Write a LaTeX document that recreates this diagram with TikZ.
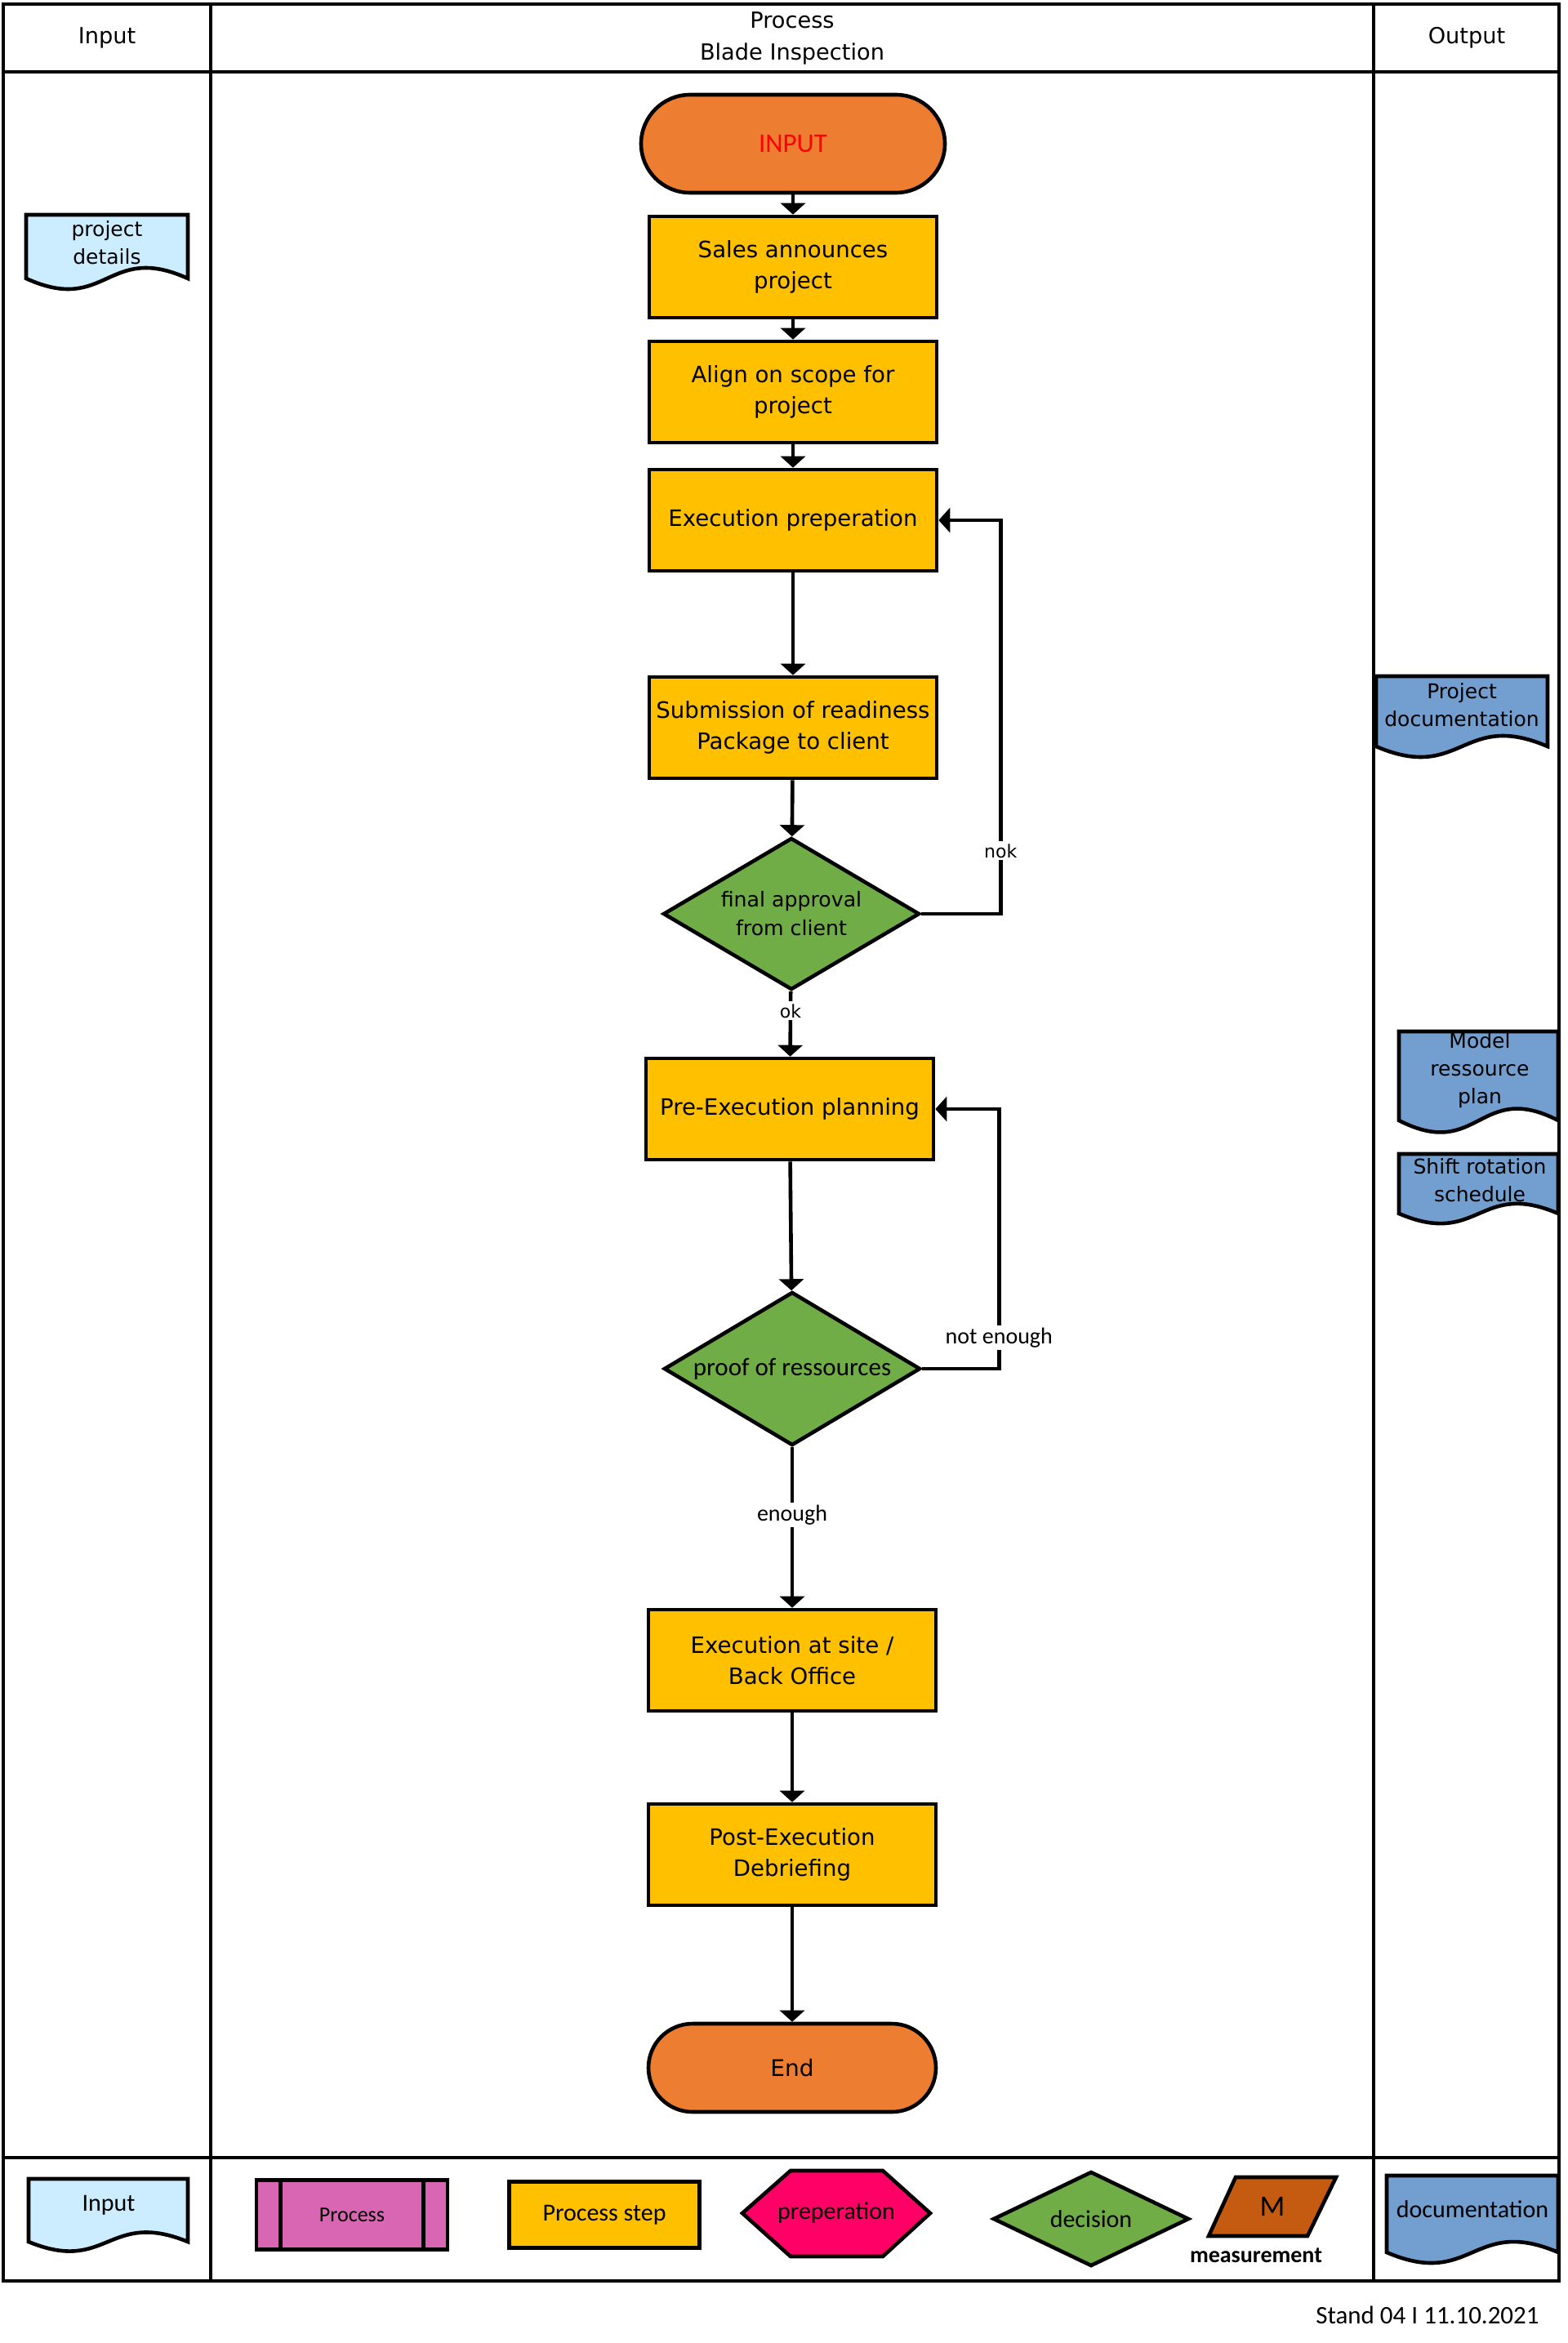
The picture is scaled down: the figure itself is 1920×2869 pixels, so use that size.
\documentclass[tikz,border=0pt]{standalone}
\usepackage{fontspec}
\setmainfont{DejaVu Sans}
\newfontfamily\calfont{Carlito}
\usepackage{tikz}
\usetikzlibrary{shapes,positioning,calc}
\usetikzlibrary{shapes.geometric, arrows}
\usetikzlibrary{arrows.meta}
\definecolor{termorange}{HTML}{ED7D31}
\definecolor{boxyellow}{HTML}{FFC000}
\definecolor{decgreen}{HTML}{70AD47}
\definecolor{inblue}{HTML}{CCECFF}
\definecolor{docblue}{HTML}{729FCF}
\definecolor{procpink}{HTML}{D966B2}
\definecolor{prepred}{HTML}{FF0066}
\definecolor{measbrown}{HTML}{C55A11}
\tikzstyle{arrow} = [line width=2.3pt,-{Triangle[length=7pt,width=15pt]}]
\tikzstyle{lane} = [line width=2.1pt]
\tikzstyle{doc} = [draw, line width=2.3pt]
\tikzstyle{doctext} = [align=center, inner sep=0pt, font=\fontsize{12.5}{17}\selectfont]
\tikzstyle{procbox} = [rectangle, draw, line width=2.3pt, fill=boxyellow, minimum width=176pt, minimum height=62pt, align=center, inner sep=2pt, font=\fontsize{13.8}{19}\selectfont]
\tikzstyle{term} = [rectangle, draw, line width=2.3pt, fill=termorange, minimum width=186pt, minimum height=60pt, rounded corners=30pt]
\tikzstyle{decide} = [diamond, aspect=1.7, draw, line width=2.3pt, fill=decgreen, minimum width=157pt, minimum height=93pt, inner sep=0pt, align=center]
\tikzstyle{lbl} = [fill=white, inner sep=1.5pt, font=\fontsize{11}{13}\selectfont]
\tikzstyle{lblc} = [fill=white, inner sep=1.5pt, font={\calfont\fontsize{14}{16}\selectfont}]
\tikzstyle{legend} = [font={\calfont\fontsize{15}{18}\selectfont}]

\begin{document}
\begin{tikzpicture}[x=0.5pt,y=-0.5pt]
	\useasboundingbox (0,0) rectangle (1920,2869);
	\draw[lane] (4,5) rectangle (1909,2793);
	\draw[lane] (4,88) -- (1909,88) (4,2642) -- (1909,2642)
		(258,5) -- (258,2793) (1682,5) -- (1682,2793);
	\node[font=\fontsize{13.6}{19.5}\selectfont] (hin) at (131,46) {Input};
	\node[align=center, font=\fontsize{13.6}{19.5}\selectfont] (hproc) at (970,47) {Process\\Blade Inspection};
	\node[font=\fontsize{13.6}{19.5}\selectfont] (hout) at (1796,46) {Output};

	\node[term, font={\calfont\fontsize{16.5}{19}\selectfont}, text=red] (input) at (971,176) {INPUT};
	\node[procbox] (sales) at (971,327) {Sales announces\\project};
	\node[procbox] (align) at (971,480) {Align on scope for\\project};
	\node[procbox] (exec) at (971,637) {Execution preperation};
	\node[procbox] (sub) at (971,891) {Submission of readiness\\Package to client};
	\node[decide, font=\fontsize{12.6}{17.5}\selectfont] (dec1) at (969,1119) {final approval\\from client};
	\node[procbox] (pre) at (967,1358) {Pre-Execution planning};
	\node[decide, minimum height=94pt, font={\calfont\fontsize{15.5}{18}\selectfont}] (dec2) at (970,1676) {proof of ressources};
	\node[procbox] (site) at (970,2033) {Execution at site /\\Back Office};
	\node[procbox] (post) at (970,2271) {Post-Execution\\Debriefing};
	\node[term, minimum width=176pt, minimum height=54pt, rounded corners=27pt, font=\fontsize{14}{17}\selectfont] (stop) at (970,2532) {End};

	\draw[arrow] (input) -- (sales);
	\draw[arrow] (sales) -- (align);
	\draw[arrow] (align) -- (exec);
	\draw[arrow] (exec) -- (sub);
	\draw[arrow] (sub) -- (dec1);
	\draw[arrow] (dec1) -- node[lbl, pos=0.3] {ok} (pre);
	\draw[arrow] (dec1.east) -- ++(97,0) |- node[lbl, pos=0.08] {nok} (exec.east);
	\draw[arrow] (pre) -- (dec2);
	\draw[arrow] (dec2) -- node[lblc, pos=0.42] {enough} (site);
	\draw[arrow] (dec2.east) -- ++(94,0) |- node[lblc, pos=0.06] {not enough} (pre.east);
	\draw[arrow] (site) -- (post);
	\draw[arrow] (post) -- (stop);

	\draw[doc, fill=inblue] (32,263) -- (230,263) -- (230,341) .. controls (131,296) and (131,386) .. (32,341) -- cycle;
	\node[doctext] (pdet) at (131,297) {project\\details};
	\draw[doc, fill=docblue] (1685,828) -- (1895,828) -- (1895,914) .. controls (1790,869) and (1790,959) .. (1685,914) -- cycle;
	\node[doctext] (pdoc) at (1790,863) {Project\\documentation};
	\draw[doc, fill=docblue] (1713,1263) -- (1908,1263) -- (1908,1372) .. controls (1811,1322) and (1811,1422) .. (1713,1372) -- cycle;
	\node[doctext] (mplan) at (1812,1311) {Model\\ressource\\plan};
	\draw[doc, fill=docblue] (1713,1413) -- (1908,1413) -- (1908,1486) .. controls (1811,1444) and (1811,1528) .. (1713,1486) -- cycle;
	\node[doctext] (shift) at (1812,1445) {Shift rotation\\schedule};

	\draw[doc, fill=inblue] (35,2668) -- (230,2668) -- (230,2745) .. controls (132,2705) and (132,2785) .. (35,2745) -- cycle;
	\node[legend] (linput) at (133,2700) {Input};
	\node[rectangle, draw, line width=2.3pt, fill=procpink, minimum width=117pt, minimum height=42.5pt, font={\calfont\fontsize{13}{15}\selectfont}] (lproc) at (431,2712) {Process};
	\draw[line width=2.3pt] ([xshift=16pt]lproc.north west) -- ([xshift=16pt]lproc.south west)
		([xshift=-16pt]lproc.north east) -- ([xshift=-16pt]lproc.south east);
	\node[legend, rectangle, draw, line width=2.3pt, fill=boxyellow, minimum width=116.5pt, minimum height=40.5pt] (lstep) at (740,2712) {Process step};
	\draw[doc, fill=prepred] (909,2710) -- (968,2658) -- (1081,2658) -- (1139,2710) -- (1081,2763) -- (968,2763) -- cycle;
	\node[legend] (lprep) at (1024,2710) {preperation};
	\node[legend, diamond, aspect=2, draw, line width=2.3pt, fill=decgreen, minimum width=120pt, minimum height=58pt, inner sep=0pt] (ldec) at (1336,2717) {decision};
	\draw[doc, fill=measbrown] (1513,2666) -- (1636,2666) -- (1601,2738) -- (1480,2738) -- cycle;
	\node[font={\calfont\fontsize{18}{20}\selectfont}] (lm) at (1558,2702) {M};
	\node[font={\calfont\bfseries\fontsize{14}{16}\selectfont}] (lmeas) at (1538,2762) {measurement};
	\draw[doc, fill=docblue] (1698,2664) -- (1908,2664) -- (1908,2758) .. controls (1803,2713) and (1803,2803) .. (1698,2758) -- cycle;
	\node[legend] (ldoc) at (1803,2705) {documentation};
	\node[font={\calfont\fontsize{15.5}{18}\selectfont}] (stand) at (1748,2835) {Stand 04 I 11.10.2021};
\end{tikzpicture}
\end{document}
